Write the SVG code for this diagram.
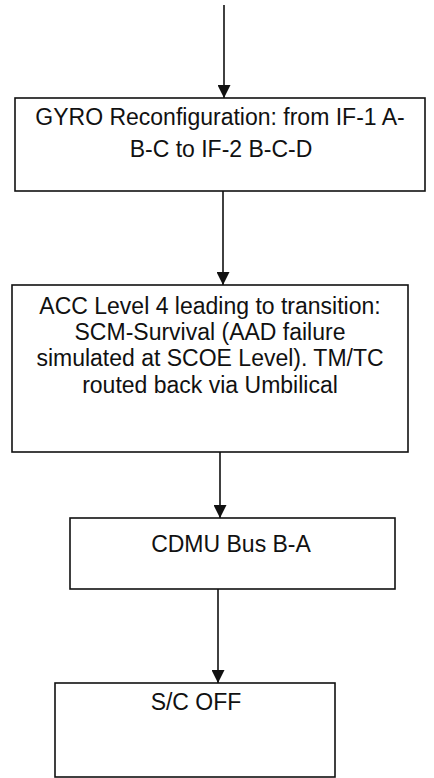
<svg xmlns="http://www.w3.org/2000/svg" width="434" height="778" viewBox="0 0 434 778">
<style>
.box{fill:#fff;stroke:#111;stroke-width:1.6}
.t{font-family:"Liberation Sans",Arial,sans-serif;font-size:23px;fill:#111;text-anchor:middle}
.c{stroke:#111;stroke-width:1.6;fill:none}
</style>
<defs>
<marker id="ah" viewBox="0 0 10 10" refX="10" refY="5" markerWidth="13" markerHeight="13" markerUnits="userSpaceOnUse" orient="auto">
<path d="M0,0 L10,5 L0,10 Z" fill="#111"/>
</marker>
</defs>
<rect width="434" height="778" fill="#fff"/>
<g id="n1">
<rect class="box" x="15" y="98" width="410" height="93"/>
<text class="t" x="220" y="125">GYRO Reconfiguration: from IF-1 A-</text>
<text class="t" x="221" y="157">B-C to IF-2 B-C-D</text>
</g>
<g id="n2">
<rect class="box" x="12" y="285" width="396" height="167"/>
<text class="t" x="210" y="314">ACC Level 4 leading to transition:</text>
<text class="t" x="210" y="340">SCM-Survival (AAD failure</text>
<text class="t" x="210" y="366">simulated at SCOE Level). TM/TC</text>
<text class="t" x="210" y="393">routed back via Umbilical</text>
</g>
<g id="n3">
<rect class="box" x="70" y="518" width="325" height="71"/>
<text class="t" x="231" y="552">CDMU Bus B-A</text>
</g>
<g id="n4">
<rect class="box" x="55" y="683" width="280" height="94"/>
<text class="t" x="196" y="710">S/C OFF</text>
</g>
<g id="connectors">
<line class="c" x1="224" y1="5" x2="224" y2="98" marker-end="url(#ah)"/>
<line class="c" x1="223" y1="191" x2="223" y2="285" marker-end="url(#ah)"/>
<line class="c" x1="220" y1="452" x2="220" y2="518" marker-end="url(#ah)"/>
<line class="c" x1="218" y1="589" x2="218" y2="683" marker-end="url(#ah)"/>
</g>
</svg>
